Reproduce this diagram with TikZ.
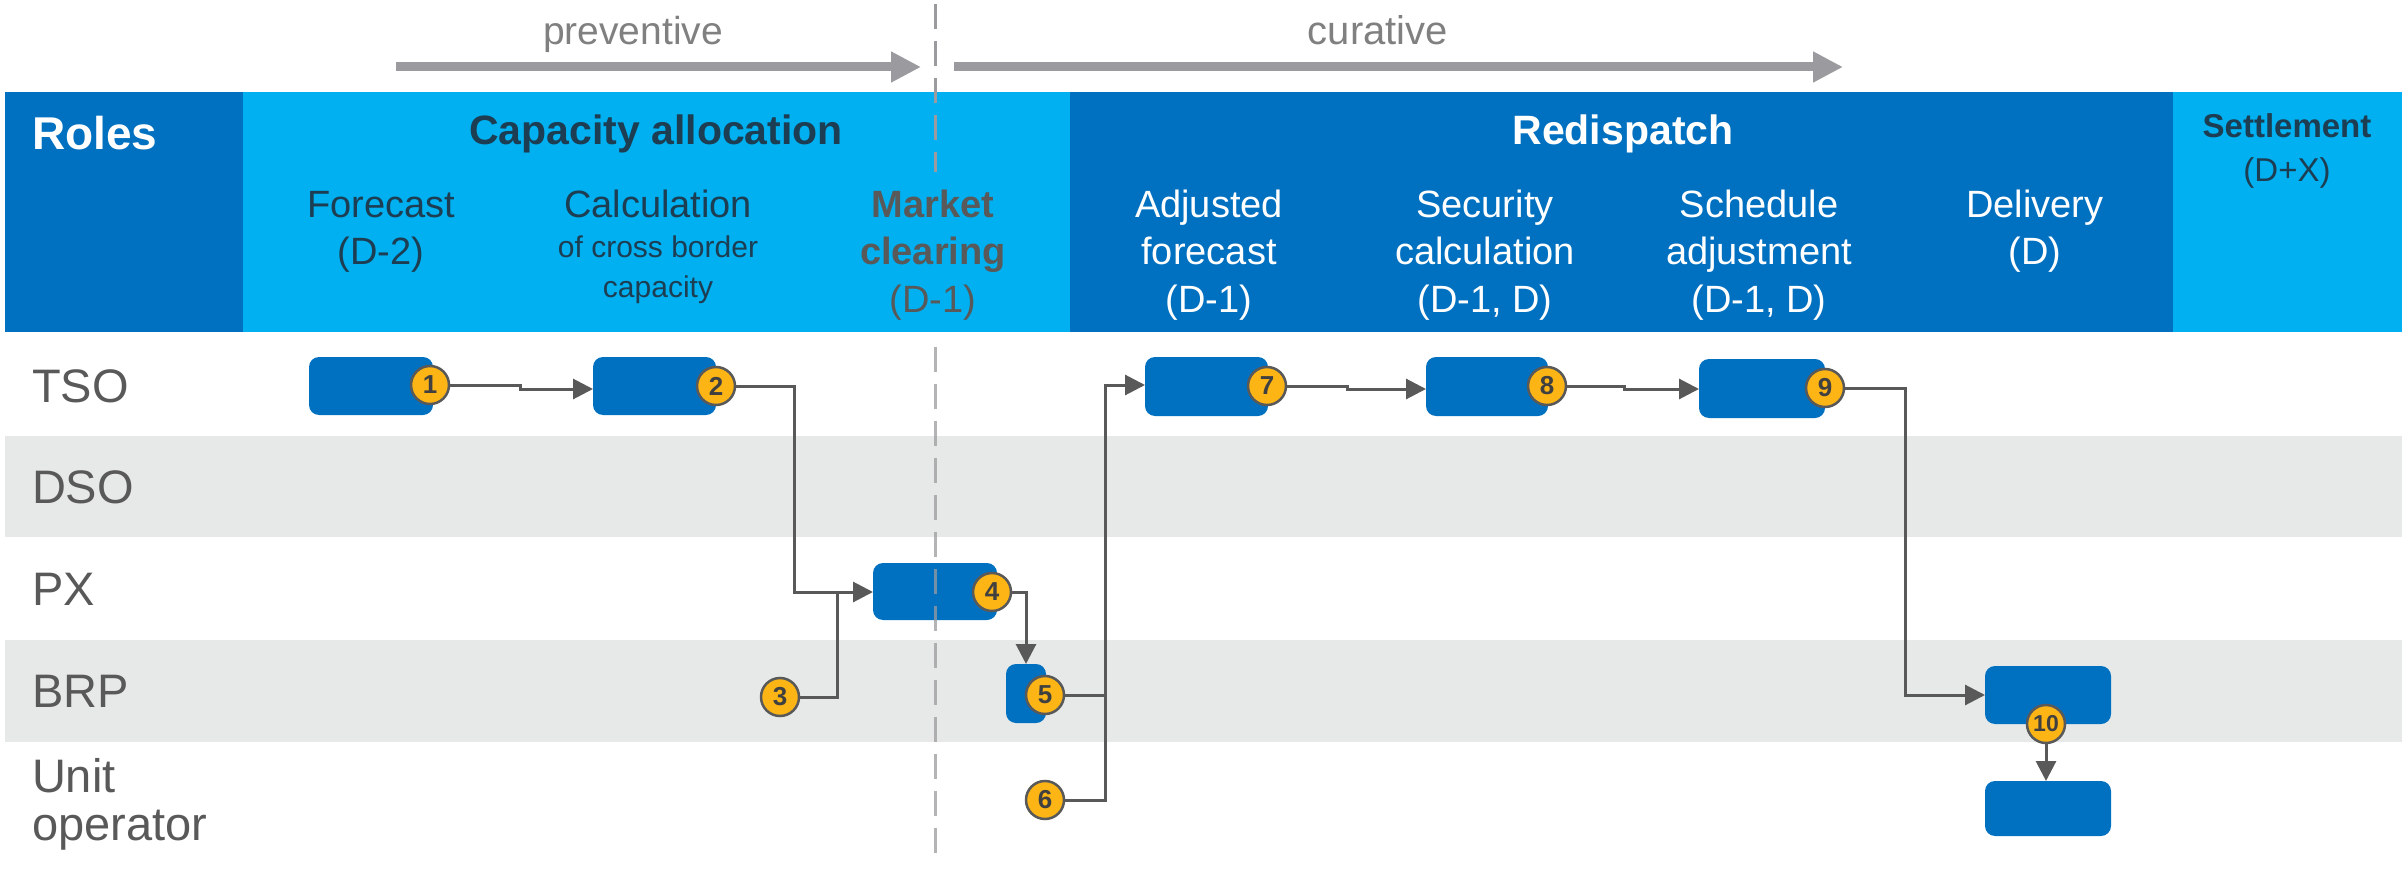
\documentclass[tikz,border=0pt]{standalone}
\usepackage{fontspec}
\setmainfont{Liberation Sans}
\usetikzlibrary{arrows.meta,calc}

\definecolor{deepblue}{HTML}{0070C0}
\definecolor{skyblue}{HTML}{00B0F0}
\definecolor{rowgrey}{HTML}{E7E9E8}
\definecolor{inkdark}{HTML}{1D3D52}
\definecolor{inkgrey}{HTML}{595959}
\definecolor{arrowgrey}{HTML}{9B9B9F}
\definecolor{amber}{HTML}{FDB515}
\definecolor{numink}{HTML}{404040}

\newcommand\pxfont[1]{\fontsize{#1}{#1}\selectfont}

\tikzset{
  lbl/.style={anchor=base, inner sep=0pt, outer sep=0pt},
  rolelbl/.style={lbl, anchor=base west, font=\pxfont{47}, text=inkgrey},
  sub/.style={lbl, font=\pxfont{38}},
  subsmall/.style={lbl, font=\pxfont{30}},
  procbox/.style={rectangle, rounded corners=10pt, fill=deepblue, draw=none,
    inner sep=0pt, outer sep=0pt},
  badge/.style={circle, fill=amber, draw=inkgrey, line width=2.5pt,
    minimum size=38pt, inner sep=0pt, outer sep=1.2pt,
    font=\pxfont{26}\bfseries, text=numink},
  flow/.style={draw=inkgrey, line width=3pt},
  flowarrow/.style={flow, -{Triangle[length=20pt,width=20pt]}},
  phase/.style={draw=arrowgrey, line width=9pt, -{Triangle[length=30pt,width=29pt]}},
  divider/.style={draw=arrowgrey, line width=3pt, dash pattern=on 25pt off 12pt},
}

\begin{document}
\begin{tikzpicture}[x=1pt,y=-1pt]
\useasboundingbox (0,0) rectangle (2402,869);
\fill[white] (0,0) rectangle (2402,869);

% header band
\fill[deepblue] (5,92) rectangle (243,332);
\fill[skyblue] (243,92) rectangle (1070,332);
\fill[deepblue] (1070,92) rectangle (2173,332);
\fill[skyblue] (2173,92) rectangle (2402,332);

% alternating role rows
\fill[rowgrey] (5,436) rectangle (2402,537);
\fill[rowgrey] (5,640) rectangle (2402,742);

% preventive / curative phases
\coordinate (prevA) at (396,67);
\coordinate (prevB) at (921,67);
\coordinate (curA) at (954,67);
\coordinate (curB) at (1843,67);
\draw[phase] (prevA) -- (prevB);
\draw[phase] (curA) -- (curB);
\node[lbl, font=\pxfont{39}, text=gray] (prevtxt) at (633,45) {preventive};
\node[lbl, font=\pxfont{40}, text=gray] (curtxt) at (1378,45) {curative};

% divider between preventive and curative
\coordinate (divA) at (935,4);
\coordinate (divB) at (935,172);
\draw[divider] (divA) -- (divB);

% header titles
\node[lbl, anchor=base west, font=\pxfont{46}\bfseries, text=white] (roles) at (32,150) {Roles};
\node[lbl, font=\pxfont{41}\bfseries, text=inkdark] (capalloc) at (656,145) {Capacity allocation};
\node[lbl, font=\pxfont{41}\bfseries, text=white] (redisp) at (1623,145) {Redispatch};
\node[lbl, font=\pxfont{33}\bfseries, text=inkdark] (settle) at (2287,138) {Settlement};
\node[lbl, font=\pxfont{33}, text=inkdark] (settleb) at (2287,182) {(D+X)};

% process steps
\node[sub, text=inkdark] (fcA) at (381,218) {Forecast};
\node[sub, text=inkdark] (fcB) at (381,265) {(D-2)};
\node[sub, text=inkdark] (calA) at (658,218) {Calculation};
\node[subsmall, text=inkdark] (calB) at (658,258) {of cross border};
\node[subsmall, text=inkdark] (calC) at (658,298) {capacity};
\node[sub, font=\pxfont{38}\bfseries, text=inkgrey] (mcA) at (933,218) {Market};
\node[sub, font=\pxfont{38}\bfseries, text=inkgrey] (mcB) at (933,265) {clearing};
\node[sub, text=inkgrey] (mcC) at (933,312) {(D-1)};
\node[sub, text=white] (afA) at (1209,218) {Adjusted};
\node[sub, text=white] (afB) at (1209,265) {forecast};
\node[sub, text=white] (afC) at (1209,312) {(D-1)};
\node[sub, text=white] (scA) at (1485,218) {Security};
\node[sub, text=white] (scB) at (1485,265) {calculation};
\node[sub, text=white] (scC) at (1485,312) {(D-1, D)};
\node[sub, text=white] (saA) at (1759,218) {Schedule};
\node[sub, text=white] (saB) at (1759,265) {adjustment};
\node[sub, text=white] (saC) at (1759,312) {(D-1, D)};
\node[sub, text=white] (dlA) at (2035,218) {Delivery};
\node[sub, text=white] (dlB) at (2035,265) {(D)};

% roles
\node[rolelbl] (tso) at (32,402) {TSO};
\node[rolelbl] (dso) at (32,503) {DSO};
\node[rolelbl] (px) at (32,605) {PX};
\node[rolelbl] (brp) at (32,707) {BRP};
\node[rolelbl] (unitA) at (32,792) {Unit};
\node[rolelbl] (unitB) at (32,840) {operator};

% activity boxes
\node[procbox, minimum width=124pt, minimum height=58pt] (b1) at (371,386) {};
\node[procbox, minimum width=123pt, minimum height=58pt] (b2) at (654.5,386) {};
\node[procbox, minimum width=124pt, minimum height=57pt] (b4) at (935,591.5) {};
\node[procbox, minimum width=40pt, minimum height=59pt] (b5) at (1026,693.5) {};
\node[procbox, minimum width=123pt, minimum height=59pt] (b7) at (1206.5,386.5) {};
\node[procbox, minimum width=122pt, minimum height=59pt] (b8) at (1487,386.5) {};
\node[procbox, minimum width=126pt, minimum height=59pt] (b9) at (1762,388.5) {};
\node[procbox, minimum width=126pt, minimum height=58pt] (b10) at (2048,695) {};
\node[procbox, minimum width=126pt, minimum height=55pt] (b11) at (2048,808.5) {};

% lower part of the divider, over the market clearing box
\coordinate (divC) at (935,347);
\coordinate (divD) at (935,853);
\draw[divider, draw opacity=0.75] (divC) -- (divD);

% numbered badges
\node[badge] (c1) at (430,385) {1};
\node[badge] (c2) at (716,386) {2};
\node[badge] (c3) at (780,697) {3};
\node[badge] (c4) at (992,592) {4};
\node[badge] (c5) at (1045,695) {5};
\node[badge] (c6) at (1045,800) {6};
\node[badge] (c7) at (1267,386) {7};
\node[badge] (c8) at (1547,386) {8};
\node[badge] (c9) at (1825,388) {9};
\node[badge, font=\pxfont{23}\bfseries] (c10) at (2046,724) {10};

% routing points
\coordinate (j1) at (520,389);
\coordinate (m2) at (794,592);
\coordinate (m3) at (837,592);
\coordinate (v7) at (1105,385);
\coordinate (j7) at (1347,389);
\coordinate (j8) at (1624,389);
\coordinate (v9) at (1905,695);

% flows
\draw[flowarrow] (c1.east) -| (j1) -- (b2.west |- j1);
\draw[flowarrow] (c2.east) -| (m2) -- (b4.west |- m2);
\draw[flow] (c3.east) -| (m3);
\draw[flowarrow] (c4.east) -| (b5.north);
\draw[flow] (c5.east) -- (c5.east -| v7);
\draw[flowarrow] (c6.east) -| (v7) -- (b7.west |- v7);
\draw[flowarrow] (c7.east) -| (j7) -- (b8.west |- j7);
\draw[flowarrow] (c8.east) -| (j8) -- (b9.west |- j8);
\draw[flowarrow] (c9.east) -| (v9) -- (b10.west |- v9);
\draw[flowarrow] (c10.south) -- (b11.north -| c10.south);
\end{tikzpicture}
\end{document}
